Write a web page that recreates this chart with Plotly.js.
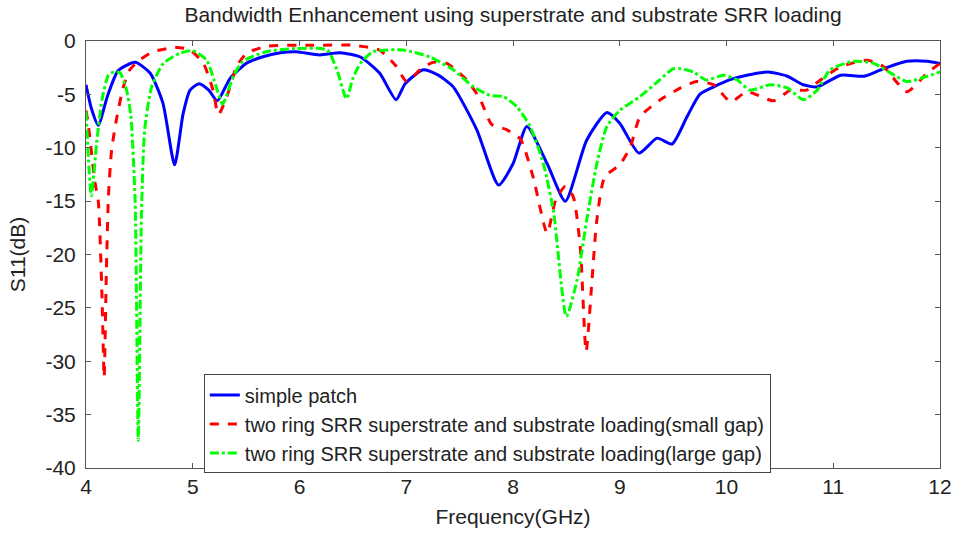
<!DOCTYPE html>
<html>
<head>
<meta charset="utf-8">
<script src="https://cdn.plot.ly/plotly-3.0.1.min.js"></script>
<style>
html,body{margin:0;padding:0;background:#fff;}
#chart{width:955px;height:539px;}
</style>
</head>
<body>
<div id="chart"></div>
<script>
// Simple patch (blue)
const xPatch = [4.0,4.05,4.115,4.2,4.3,4.46,4.6,4.72,4.83,4.91,4.975,5.06,5.15,5.23,5.35,5.5,5.65,5.82,5.97,6.19,6.38,6.57,6.75,6.905,6.99,7.16,7.3,7.44,7.66,7.865,8.0,8.13,8.32,8.49,8.69,8.88,9.0,9.18,9.35,9.49,9.63,9.75,9.88,10.04,10.19,10.39,10.57,10.72,10.85,11.07,11.29,11.47,11.69,11.88,12.0];
const yPatch = [-4.1,-6.3,-7.9,-5.2,-2.8,-2.0,-3.0,-5.8,-11.6,-6.8,-4.6,-4.0,-4.6,-5.6,-3.5,-2.1,-1.5,-1.1,-1.0,-1.3,-1.1,-1.5,-3.0,-5.5,-4.0,-2.7,-3.2,-4.3,-8.3,-13.5,-11.5,-8.0,-11.5,-15.0,-9.3,-6.7,-7.7,-10.5,-9.1,-9.65,-7.1,-5.0,-4.3,-3.6,-3.2,-2.9,-3.3,-4.1,-4.3,-3.2,-3.3,-2.6,-1.9,-1.9,-2.1];

// Two ring SRR, small gap (red)
const xSmall = [4.0,4.02,4.085,4.115,4.15,4.17,4.19,4.21,4.24,4.29,4.35,4.41,4.5,4.63,4.85,4.975,5.1,5.19,5.24,5.32,5.41,5.5,5.69,6.13,6.5,6.75,6.9,7.005,7.13,7.25,7.38,7.57,7.69,7.8,7.94,8.07,8.19,8.32,8.40,8.49,8.565,8.63,8.685,8.74,8.785,8.86,9.0,9.10,9.19,9.38,9.57,9.72,9.88,10.04,10.19,10.44,10.6,10.75,10.88,11.07,11.32,11.47,11.69,11.88,12.0];
const ySmall = [-6.5,-7.7,-13.3,-15.0,-24.0,-31.5,-22.0,-14.6,-10.2,-7.1,-4.3,-2.7,-1.8,-1.0,-0.6,-0.85,-2.1,-4.6,-6.9,-5.2,-2.4,-1.2,-0.5,-0.4,-0.4,-0.85,-2.3,-3.8,-2.7,-2.0,-2.1,-3.7,-5.4,-7.8,-8.3,-9.2,-12.8,-18.0,-14.9,-13.6,-14.6,-19.3,-29.1,-22.4,-16.8,-12.7,-11.6,-9.9,-7.1,-5.5,-4.4,-3.8,-4.1,-5.7,-4.75,-5.6,-4.6,-4.6,-3.65,-2.4,-1.8,-2.4,-4.75,-3.0,-2.1];

// Two ring SRR, large gap (green)
const xLarge = [4.0,4.05,4.1,4.15,4.21,4.26,4.32,4.38,4.42,4.46,4.49,4.52,4.55,4.615,4.725,4.88,5.0,5.13,5.22,5.28,5.38,5.47,5.69,5.97,6.26,6.35,6.44,6.5,6.57,6.69,6.97,7.22,7.44,7.63,7.785,7.91,8.04,8.16,8.285,8.38,8.50,8.60,8.69,8.785,8.88,9.0,9.19,9.38,9.5,9.57,9.69,9.81,9.97,10.1,10.22,10.41,10.57,10.72,10.85,10.97,11.19,11.38,11.57,11.69,11.88,12.0];
const yLarge = [-6.6,-14.5,-9.5,-5.5,-3.2,-2.9,-3.0,-4.6,-7.0,-15.0,-37.4,-16.0,-8.3,-4.3,-2.1,-1.15,-0.9,-1.8,-4.3,-5.9,-3.3,-1.9,-1.0,-0.7,-0.85,-2.7,-5.4,-3.5,-2.1,-1.0,-0.85,-1.5,-2.7,-4.3,-5.1,-5.2,-6.2,-8.0,-11.5,-16.0,-25.8,-22.4,-16.8,-11.5,-8.0,-6.5,-5.2,-3.6,-2.6,-2.6,-2.9,-3.65,-3.2,-3.65,-4.6,-4.1,-4.4,-5.5,-4.6,-2.7,-1.9,-2.1,-3.2,-3.8,-3.3,-2.9];

const seriesNames = ["simple patch",
  "two ring SRR superstrate and substrate loading(small gap)",
  "two ring SRR superstrate and substrate loading(large gap)"];
const xTicks = [4,5,6,7,8,9,10,11,12];
const yTicks = [0,-5,-10,-15,-20,-25,-30,-35,-40];

const FONT = "Arial, 'Liberation Sans', sans-serif";

const traces = [
  {x:xPatch, y:yPatch, name:seriesNames[0], mode:'lines',
   line:{color:'#0000ff', width:3, shape:'spline', smoothing:0.6}},
  {x:xSmall, y:ySmall, name:seriesNames[1], mode:'lines',
   line:{color:'#ff0000', width:3, dash:'dash', shape:'spline', smoothing:0.6}},
  {x:xLarge, y:yLarge, name:seriesNames[2], mode:'lines',
   line:{color:'#00ff00', width:3, dash:'dashdot', shape:'spline', smoothing:0.6}}
];

const axisCommon = {
  showgrid:false, zeroline:false, showline:true, linecolor:'#555', linewidth:1,
  mirror:'ticks', ticks:'inside', ticklen:5, tickcolor:'#555',
  tickfont:{family:FONT, size:21, color:'#222'}
};

const layout = {
  width:955, height:539,
  margin:{l:86, r:15, t:41, b:71},
  paper_bgcolor:'#fff', plot_bgcolor:'#fff',
  font:{family:FONT, color:'#222'},
  title:{text:'Bandwidth Enhancement using superstrate and substrate SRR loading',
    font:{family:FONT, size:21, color:'#222'}, x:0.5, xref:'paper',
    y:1-15/539, yref:'container', yanchor:'middle'},
  xaxis:Object.assign({}, axisCommon, {range:[4,12], tickvals:xTicks, ticktext:xTicks.map(String),
    title:{text:'Frequency(GHz)', font:{family:FONT, size:21, color:'#222'}, standoff:12}}),
  yaxis:Object.assign({}, axisCommon, {range:[-40,0], tickvals:yTicks, ticktext:yTicks.map(String),
    ticklabelstandoff:5,
    title:{text:'S11(dB)', font:{family:FONT, size:21, color:'#222'}, standoff:14}}),
  showlegend:true,
  legend:{x:0.138, y:0.219, xanchor:'left', yanchor:'top', bgcolor:'#fff',
    bordercolor:'#444', borderwidth:1, itemwidth:30, tracegroupgap:0,
    font:{family:FONT, size:20, color:'#222'}}
};

Plotly.newPlot('chart', traces, layout, {displayModeBar:false, staticPlot:true});
</script>
</body>
</html>
